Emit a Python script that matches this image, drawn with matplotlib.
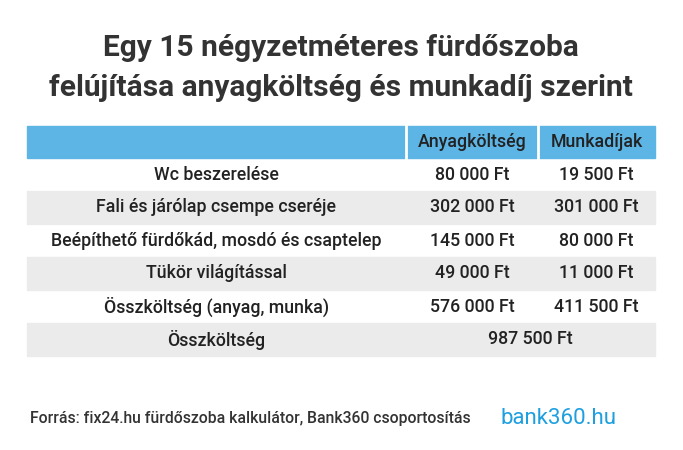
import matplotlib
matplotlib.use("Agg")
import matplotlib.pyplot as plt
from matplotlib.patches import Rectangle

plt.rcParams['font.family'] = ['Roboto', 'DejaVu Sans']

title = "Egy 15 négyzetméteres fürdőszoba\nfelújítása anyagköltség és munkadíj szerint"
headers = ["", "Anyagköltség", "Munkadíjak"]
items = ["Wc beszerelése", "Fali és járólap csempe cseréje",
         "Beépíthető fürdőkád, mosdó és csaptelep", "Tükör világítással",
         "Összköltség (anyag, munka)"]
material = ["80 000 Ft", "302 000 Ft", "145 000 Ft", "49 000 Ft", "576 000 Ft"]
labour = ["19 500 Ft", "301 000 Ft", "80 000 Ft", "11 000 Ft", "411 500 Ft"]
total_label = "Összköltség"
total_value = "987 500 Ft"
source = "Forrás: fix24.hu fürdőszoba kalkulátor, Bank360 csoportosítás"

fig = plt.figure(figsize=(6.83, 4.5), dpi=100)
ax = fig.add_axes([0, 0, 1, 1])
ax.set_xlim(0, 683); ax.set_ylim(450, 0); ax.axis('off')

ax.text(341, 68, title, ha='center', va='center', fontsize=21.5, fontweight='bold',
        color='#333333', linespacing=1.55)

x0, x1, x2, x3 = 27, 406, 538, 655
top, hh, rh = 126, 32, 33
blue = '#5db5e5'; gray = '#ebebeb'; txt = '#222222'
fs = 12.8
ax.add_patch(Rectangle((x0, top), x3 - x0, hh, color=blue))
for xa in [x1, x2]:
    ax.plot([xa, xa], [top, top + hh], color='white', lw=2)
ax.text((x1 + x2) / 2, top + hh / 2, headers[1], ha='center', va='center', fontsize=fs, fontweight='medium', color=txt)
ax.text((x2 + x3) / 2, top + hh / 2, headers[2], ha='center', va='center', fontsize=fs, fontweight='medium', color=txt)

y = top + hh
for i, (it, m, l) in enumerate(zip(items, material, labour)):
    if i % 2 == 1:
        ax.add_patch(Rectangle((x0, y), x3 - x0, rh, color=gray))
    c = y + rh / 2
    ax.text((x0 + x1) / 2, c, it, ha='center', va='center', fontsize=fs, fontweight='medium', color=txt)
    ax.text((x1 + x2) / 2, c, m, ha='center', va='center', fontsize=fs, fontweight='medium', color=txt)
    ax.text((x2 + x3) / 2, c, l, ha='center', va='center', fontsize=fs, fontweight='medium', color=txt)
    y += rh
ax.add_patch(Rectangle((x0, y), x3 - x0, rh, color=gray))
ax.text((x0 + x1) / 2, y + rh / 2, total_label, ha='center', va='center', fontsize=fs, fontweight='medium', color=txt)
ax.text((x1 + x3) / 2, y + rh / 2, total_value, ha='center', va='center', fontsize=fs, fontweight='medium', color=txt)

ax.text(30, 418, source, ha='left', va='center', fontsize=11.3, fontweight='medium', color='#333333')
ax.text(500, 418, "bank360.hu", ha='left', va='center', fontsize=16, color='#1ea0e0')

fig.savefig("out.png", dpi=100)
